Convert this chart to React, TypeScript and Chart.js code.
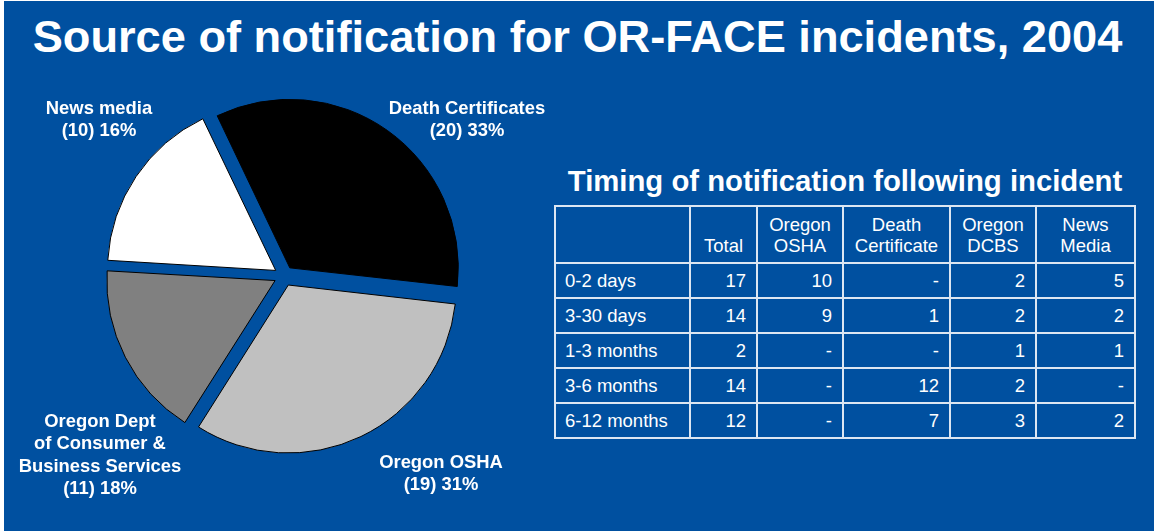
import React, { useEffect, useRef } from "react";
import { Chart, registerables } from "chart.js";

Chart.register(...registerables);

// ---- Pie data ----
const pieLabels = ["Death Certificates", "Oregon OSHA", "Oregon Dept\nof Consumer &\nBusiness Services", "News media"];
// slice sizes as drawn in the picture
const pieSliceValues = [20, 19, 10, 10];
// counts and shares as printed in the labels
const pieLabelCounts = [20, 19, 11, 10];
const pieShares = ["33%", "31%", "18%", "16%"];
const pieColors = ["#000000", "#C0C0C0", "#808080", "#FFFFFF"];

// ---- Table data ----
const tableTitle = "Timing of notification following incident";
const columnHeaders = ["", "Total", "Oregon\nOSHA", "Death\nCertificate", "Oregon\nDCBS", "News\nMedia"];
const rowLabels = ["0-2 days", "3-30 days", "1-3 months", "3-6 months", "6-12 months"];
const totals = [17, 14, 2, 14, 12];
const oshaCounts = [10, 9, null, null, null];
const deathCertCounts = [null, 1, null, 12, 7];
const dcbsCounts = [2, 2, 1, 2, 3];
const newsMediaCounts = [5, 2, 1, null, 2];

const chartTitle = "Source of notification for OR-FACE incidents, 2004";

// ---- Layout / style (not data) ----
const BLUE = "#0050A0";
const FONT = '"Liberation Sans", Arial, Helvetica, sans-serif';
const labelPlacement = [
  { cx: 467, top: 97 },
  { cx: 441, top: 451 },
  { cx: 100, top: 410 },
  { cx: 99, top: 97 },
];
const colWidths = [135, 67, 86, 107, 86, 99];
const LINE = "2px solid #DCE6F2";

function fmt(v: number | null) {
  return v === null ? "-" : String(v);
}

export default function App() {
  const canvasRef = useRef<HTMLCanvasElement | null>(null);

  useEffect(() => {
    const canvas = canvasRef.current;
    if (!canvas) return;
    const chart = new Chart(canvas, {
      type: "pie",
      data: {
        labels: pieLabels,
        datasets: [
          {
            data: pieSliceValues,
            backgroundColor: pieColors,
            borderColor: "#000000",
            borderWidth: 1,
            offset: 40,
            hoverOffset: 0,
          },
        ],
      },
      options: {
        responsive: false,
        animation: false,
        events: [],
        rotation: -25.6,
        radius: 167,
        layout: { padding: 0 },
        plugins: {
          legend: { display: false },
          tooltip: { enabled: false },
        },
      } as any,
    });
    return () => chart.destroy();
  }, []);

  const rows = rowLabels.map((label, i) => [
    label,
    fmt(totals[i]),
    fmt(oshaCounts[i]),
    fmt(deathCertCounts[i]),
    fmt(dcbsCounts[i]),
    fmt(newsMediaCounts[i]),
  ]);

  return (
    <div
      style={{
        position: "fixed",
        left: 0,
        top: 0,
        width: 1154,
        height: 531,
        background: "#FFFFFF",
        overflow: "hidden",
        fontFamily: FONT,
      }}
    >
      <div
        style={{
          position: "absolute",
          left: 4,
          top: 1,
          right: 0,
          bottom: 0,
          background: BLUE,
        }}
      />
      <div
        style={{
          position: "absolute",
          left: 0,
          top: 14,
          width: 1155,
          textAlign: "center",
          color: "#FFFFFF",
          fontWeight: "bold",
          fontSize: 45.2,
          lineHeight: "45px",
          whiteSpace: "nowrap",
        }}
      >
        {chartTitle}
      </div>

      <canvas
        ref={canvasRef}
        width={400}
        height={400}
        style={{ position: "absolute", left: 84, top: 76, width: 400, height: 400 }}
      />

      {pieLabels.map((lab, i) => (
        <div
          key={i}
          style={{
            position: "absolute",
            left: labelPlacement[i].cx - 130,
            top: labelPlacement[i].top,
            width: 260,
            textAlign: "center",
            color: "#FFFFFF",
            fontWeight: "bold",
            fontSize: 18.4,
            lineHeight: "22.3px",
            whiteSpace: "pre-line",
          }}
        >
          {lab + "\n(" + pieLabelCounts[i] + ") " + pieShares[i]}
        </div>
      ))}

      <div
        style={{
          position: "absolute",
          left: 555,
          top: 166,
          width: 580,
          textAlign: "center",
          color: "#FFFFFF",
          fontWeight: "bold",
          fontSize: 29.3,
          lineHeight: "29px",
          whiteSpace: "nowrap",
        }}
      >
        {tableTitle}
      </div>

      <table
        style={{
          position: "absolute",
          left: 554,
          top: 205,
          width: 582,
          borderCollapse: "collapse",
          tableLayout: "fixed",
          color: "#FFFFFF",
          fontSize: 18.5,
          fontFamily: FONT,
        }}
      >
        <colgroup>
          {colWidths.map((w, i) => (
            <col key={i} style={{ width: w }} />
          ))}
        </colgroup>
        <tbody>
          <tr>
            {columnHeaders.map((h, j) => (
              <td
                key={j}
                style={{
                  border: LINE,
                  height: 49,
                  padding: "0 0 6px 0",
                  verticalAlign: "bottom",
                  textAlign: "center",
                  lineHeight: "21px",
                  whiteSpace: "pre-line",
                }}
              >
                {h}
              </td>
            ))}
          </tr>
          {rows.map((r, i) => (
            <tr key={i}>
              {r.map((c, j) => (
                <td
                  key={j}
                  style={{
                    border: LINE,
                    height: 33,
                    padding: j === 0 ? "0 0 0 9px" : "0 10px 0 0",
                    verticalAlign: "middle",
                    textAlign: j === 0 ? "left" : "right",
                    lineHeight: "21px",
                    whiteSpace: "nowrap",
                  }}
                >
                  {c}
                </td>
              ))}
            </tr>
          ))}
        </tbody>
      </table>
    </div>
  );
}
